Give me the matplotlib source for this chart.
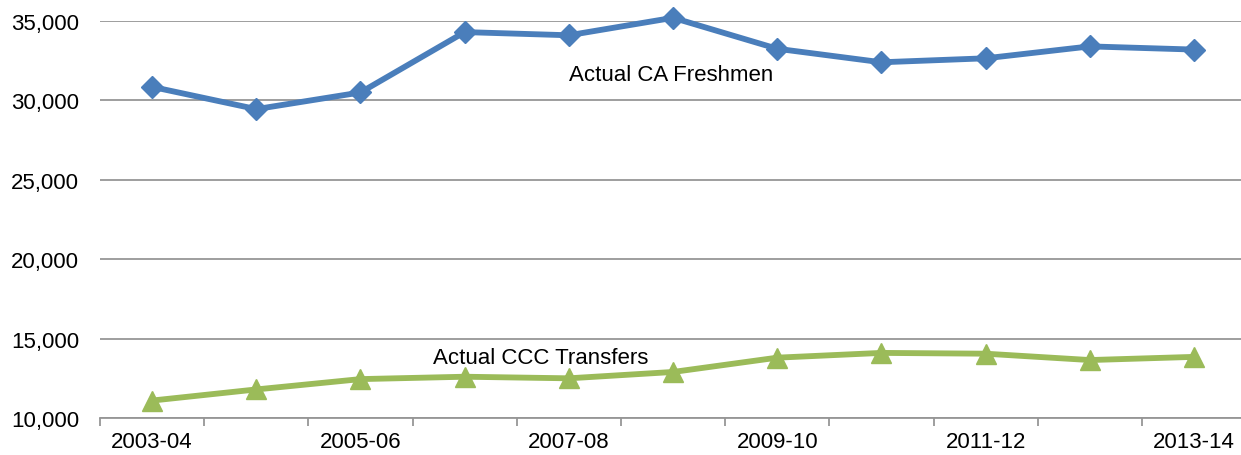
import numpy as np
import matplotlib.pyplot as plt
from matplotlib.ticker import FuncFormatter

plt.rcParams['font.family'] = ['Liberation Sans', 'DejaVu Sans']

years = ['2003-04', '2004-05', '2005-06', '2006-07', '2007-08', '2008-09',
         '2009-10', '2010-11', '2011-12', '2012-13', '2013-14']
freshmen = [30850, 29450, 30500, 34300, 34100, 35200, 33250, 32400, 32650, 33400, 33200]
transfers = [11100, 11800, 12450, 12600, 12500, 12900, 13800, 14100, 14050, 13650, 13850]

blue = '#4A7EBB'
green = '#9BBB59'
grid = '#969696'

fig = plt.figure(figsize=(12.41, 4.56), dpi=100)
ax = fig.add_axes([0.0806, 0.0811, 0.9235, 0.8707])

x = np.arange(len(years))
# markers near the top edge must not be cut off
ax.plot(x, freshmen, color=blue, lw=4.2, marker='D', ms=11, mec=blue, zorder=3, clip_on=False)
ax.plot(x, transfers, color=green, lw=4.2, marker='^', ms=15, mec=green, zorder=3, clip_on=False)

ax.set_xlim(-0.5, len(years) - 0.5)
ax.set_ylim(10000, 35000)
ax.set_yticks(np.arange(10000, 35001, 5000))
ax.yaxis.set_major_formatter(FuncFormatter(lambda v, p: f'{int(v):,}'))
ax.grid(axis='y', color=grid, lw=1.3)
ax.set_axisbelow(True)

ax.set_xticks(x[::2])
ax.set_xticklabels(years[::2])
ax.set_xticks(np.arange(-0.5, len(years)), minor=True)
ax.tick_params(axis='x', which='major', length=0, pad=9, labelsize=16)
ax.tick_params(axis='x', which='minor', length=6, width=1.3, color=grid)
ax.tick_params(axis='y', length=0, pad=15, labelsize=16)

for s in ['left', 'right', 'top']:
    ax.spines[s].set_visible(False)
ax.spines['bottom'].set_color(grid)
ax.spines['bottom'].set_linewidth(1.3)

ax.text(4.98, 31660, 'Actual CA Freshmen', fontsize=16, ha='center', va='center')
ax.text(3.73, 13780, 'Actual CCC Transfers', fontsize=16, ha='center', va='center')

fig.savefig('out.png', dpi=100)
